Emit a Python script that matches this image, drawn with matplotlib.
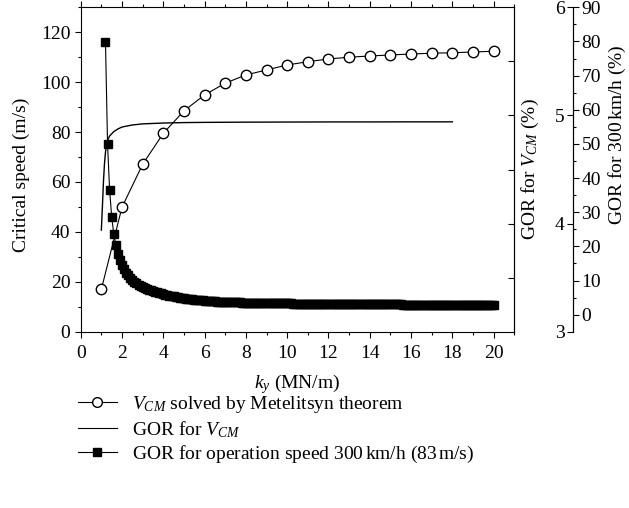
import numpy as np
import matplotlib
matplotlib.use("Agg")
import matplotlib.pyplot as plt
from matplotlib.ticker import MultipleLocator, FixedLocator
from matplotlib.lines import Line2D

plt.rcParams['font.family'] = ['Liberation Serif', 'DejaVu Serif']
plt.rcParams['mathtext.fontset'] = 'custom'
plt.rcParams['mathtext.rm'] = 'Liberation Serif'
plt.rcParams['mathtext.it'] = 'Liberation Serif:italic'
plt.rcParams['font.size'] = 14

# ---- data ----
ky_vcm = [1, 2, 3, 4, 5, 6, 7, 8, 9, 10, 11, 12, 13, 14, 15, 16, 17, 18, 19, 20]
vcm = [17.0, 49.9, 67.1, 79.5, 88.5, 94.9, 99.6, 102.9, 104.9, 106.9,
       108.2, 109.3, 110.0, 110.5, 110.9, 111.3, 111.6, 111.8, 112.1, 112.4]

ky_gor_vcm = [1.0, 1.05, 1.1, 1.15, 1.2, 1.25, 1.3, 1.4, 1.5, 1.6, 1.8, 2.0, 2.5,
              3, 4, 5, 6, 8, 10, 12, 14, 16, 18]
gor_vcm = [3.94, 4.15, 4.38, 4.55, 4.66, 4.73, 4.77, 4.81, 4.83, 4.85, 4.875, 4.893,
           4.912, 4.922, 4.930, 4.934, 4.936, 4.938, 4.939, 4.940, 4.940, 4.941, 4.941]

ky_gor300 = np.round(np.arange(1.2, 20.05, 0.1), 1)
gor300 = [79.9, 49.9, 36.5, 28.7, 23.7, 20.4, 17.9, 16.0, 14.5,
          13.3, 12.3, 11.5, 10.8, 10.2, 9.7, 9.2, 8.8, 8.4, 8.1,
          7.8, 7.5, 7.3, 7.1, 6.9, 6.7, 6.5, 6.4, 6.2, 6.1,
          5.9, 5.8, 5.6, 5.5, 5.4, 5.2, 5.1, 5.0, 4.9, 4.8,
          4.7, 4.6, 4.5, 4.5, 4.4, 4.3, 4.3, 4.2, 4.2, 4.1,
          4.0, 4.0, 3.9, 3.9, 3.9, 3.8, 3.8, 3.8, 3.7, 3.7,
          3.7, 3.7, 3.6, 3.6, 3.6, 3.6, 3.6, 3.5, 3.5, 3.5,
          3.5, 3.5, 3.5, 3.5, 3.4, 3.4, 3.4, 3.4, 3.4, 3.4,
          3.4, 3.4, 3.3, 3.3, 3.3, 3.3, 3.3, 3.3, 3.3, 3.3,
          3.3, 3.3, 3.2, 3.2, 3.2, 3.2, 3.2, 3.2, 3.2, 3.2,
          3.2, 3.2, 3.2, 3.2, 3.1, 3.1, 3.1, 3.1, 3.1, 3.1,
          3.1, 3.1, 3.1, 3.1, 3.1, 3.1, 3.1, 3.1, 3.1, 3.1,
          3.1, 3.1, 3.1, 3.1, 3.1, 3.0, 3.0, 3.0, 3.0, 3.0,
          3.0, 3.0, 3.0, 3.0, 3.0, 3.0, 3.0, 3.0, 3.0, 3.0,
          3.0, 3.0, 3.0, 3.0, 3.0, 2.9, 2.9, 2.9, 2.9, 2.9,
          2.9, 2.9, 2.9, 2.9, 2.9, 2.9, 2.9, 2.9, 2.9, 2.9,
          2.9, 2.9, 2.9, 2.9, 2.9, 2.8, 2.8, 2.8, 2.8, 2.8,
          2.8, 2.8, 2.8, 2.8, 2.8, 2.8, 2.8, 2.8, 2.8, 2.8,
          2.8, 2.8, 2.8, 2.8, 2.8, 2.7, 2.7, 2.7, 2.7, 2.7]

labels = [r'$V_{CM}$ solved by Metelitsyn theorem',
          r'GOR for $V_{CM}$',
          r'GOR for operation speed 300$\,$km/h (83$\,$m/s)']

# ---- figure ----
fig = plt.figure(figsize=(6.29, 5.08), dpi=100)
ax = fig.add_axes([0.1283, 0.3470, 0.6894, 0.6386])
ax.set_xlim(0, 21)
ax.set_ylim(0, 130)
ax.xaxis.set_major_locator(MultipleLocator(2))
ax.xaxis.set_minor_locator(MultipleLocator(1))
ax.yaxis.set_major_locator(MultipleLocator(20))
ax.yaxis.set_minor_locator(MultipleLocator(10))
ax.tick_params(which='both', direction='out', top=True, right=False, width=0.8)
ax.tick_params(which='major', length=4.5)
ax.tick_params(which='minor', length=2.5)
ax.tick_params(axis='y', which='major', pad=3)
ax.tick_params(axis='x', which='major', pad=5)
ax.tick_params(axis='x', which='both', top=True, labeltop=False)
for s in ax.spines.values():
    s.set_linewidth(0.8)
ax.set_xlabel(r'$k_y$ (MN/m)', labelpad=7)
ax.set_ylabel('Critical speed (m/s)')
ax.yaxis.set_label_coords(-0.118, 0.483)

l1, = ax.plot(ky_vcm, vcm, '-o', color='black', lw=0.8, ms=7.5,
              mfc='white', mec='black', mew=1.0, zorder=3)

# inner right ticks (GOR for V_CM scale)
ax_in = ax.twinx()
ax_in.set_ylim(3, 6)
for s in ax_in.spines.values():
    s.set_visible(False)
ax_in.yaxis.set_major_locator(FixedLocator([3.5, 4, 4.5, 5, 5.5]))
ax_in.tick_params(axis='y', direction='in', length=4, width=0.8, labelright=False)
ax_in.spines['right'].set_visible(True)
ax_in.spines['right'].set_linewidth(0.8)
l2, = ax_in.plot(ky_gor_vcm, gor_vcm, '-', color='black', lw=1.0)

# outer GOR for V_CM axis (labels on left of offset spine)
ax_l = ax.twinx()
ax_l.set_ylim(3, 6)
for s in ax_l.spines.values():
    s.set_visible(False)
ax_l.spines['left'].set_visible(True)
ax_l.spines['left'].set_position(('axes', 1.1354))
ax_l.spines['left'].set_linewidth(0.8)
ax_l.yaxis.set_ticks_position('left')
ax_l.yaxis.set_label_position('left')
ax_l.yaxis.set_major_locator(FixedLocator([3, 4, 5, 6]))
ax_l.tick_params(axis='y', direction='out', length=4, width=0.8, pad=2)
ax_l.set_ylabel(r'GOR for $V_{CM}$ (%)')
ax_l.yaxis.set_label_coords(1.062, 0.5)

# outer GOR for 300 km/h axis
ax3 = ax.twinx()
ax3.set_ylim(-5, 90)
for s in ax3.spines.values():
    s.set_visible(False)
ax3.spines['right'].set_visible(True)
ax3.spines['right'].set_position(('axes', 1.1354))
ax3.spines['right'].set_linewidth(0.8)
ax3.set_yticks(range(0, 91, 10))
ax3.yaxis.set_minor_locator(FixedLocator([5, 15, 25, 35, 45, 55, 65, 75, 85]))
ax3.tick_params(axis='y', which='both', direction='out', width=0.8)
ax3.tick_params(axis='y', which='major', length=4, pad=2)
ax3.tick_params(axis='y', which='minor', length=2.5)
ax3.set_ylabel('GOR for 300$\\,$km/h (%)')
ax3.yaxis.set_label_coords(1.214, 0.609)
l3, = ax3.plot(ky_gor300, gor300, '-s', color='black', lw=0.8, ms=6,
               mfc='black', mec='black')

h1 = Line2D([], [], color='black', lw=0.8, marker='o', ms=7, mfc='white', mec='black')
h2 = Line2D([], [], color='black', lw=0.8)
h3 = Line2D([], [], color='black', lw=0.8, marker='s', ms=5.5, mfc='black', mec='black')
fig.legend([h1, h2, h3], labels, loc='upper left',
           bbox_to_anchor=(78 / 629, 1 - 394 / 508), frameon=False,
           borderaxespad=0, borderpad=0, handlelength=2.0, handletextpad=0.8,
           labelspacing=0.2)

fig.savefig('out.png', dpi=100)
